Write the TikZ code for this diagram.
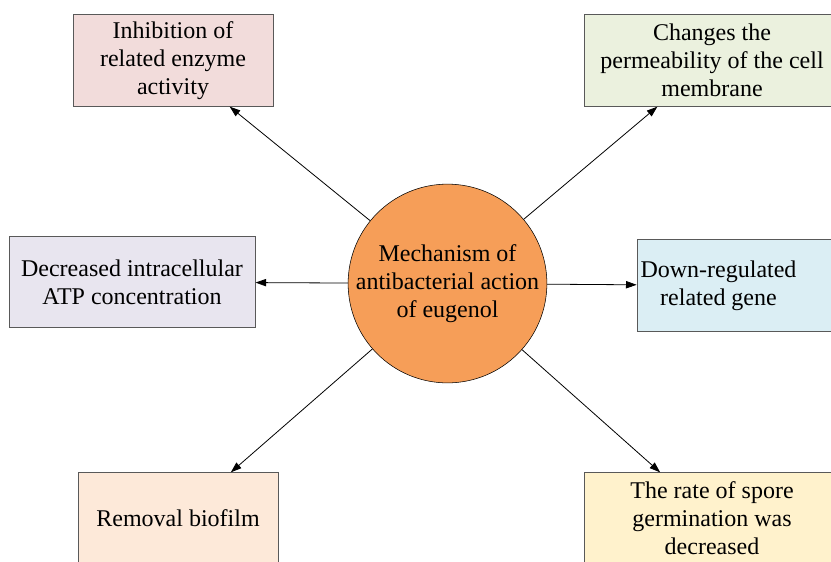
\documentclass[tikz,border=0pt]{standalone}
\usepackage{fontspec}
\setmainfont{Liberation Serif}
\usetikzlibrary{arrows.meta}

\definecolor{circfill}{RGB}{246,158,88}
\definecolor{pinkfill}{RGB}{242,220,219}
\definecolor{greenfill}{RGB}{235,241,222}
\definecolor{lilacfill}{RGB}{232,229,239}
\definecolor{bluefill}{RGB}{219,238,244}
\definecolor{peachfill}{RGB}{253,233,217}
\definecolor{yellowfill}{RGB}{255,242,204}

\begin{document}
\begin{tikzpicture}[x = 0.75pt, y = -0.75pt, align = center,
                    font = \fontsize{18}{21}\selectfont,
                    >={Triangle[length = 8pt, width = 5.5pt]},
                    box/.style = {draw = black!65, line width = 0.75pt, minimum height = 68.5pt, inner sep = 2pt},
                    arrow/.style = {->, line width = 0.6pt}]
                    \useasboundingbox (0, 0) rectangle (831, 561);

                    \node[draw, fill = circfill, circle, minimum size = 147pt, inner sep = 0pt] (0) at (447.5, 283.5) {Mechanism of\\antibacterial action\\of eugenol};

                    \node[box, fill = pinkfill,   minimum width = 150pt]   (1) at (173, 60.5)    {Inhibition of\\related enzyme\\activity};
                    \node[box, fill = greenfill,  minimum width = 192pt]   (2) at (712, 60.5)    {Changes the\\permeability of the cell\\membrane};
                    \node[box, fill = lilacfill,  minimum width = 184.5pt] (3) at (132, 282)     {Decreased intracellular\\ATP concentration};
                    \node[box, fill = bluefill,   minimum width = 152pt,
                          label = {[xshift = -15pt, align = center]center:{Down-regulated\\related gene}}]
                                                                           (4) at (738.5, 285.5) {};
                    \node[box, fill = peachfill,  minimum width = 150pt]   (5) at (178, 518.5)   {Removal biofilm};
                    \node[box, fill = yellowfill, minimum width = 192pt]   (6) at (712, 518.5)   {The rate of spore\\germination was\\decreased};

                    \draw[arrow] (0) -- (1);
                    \draw[arrow] (0) -- (2);
                    \draw[arrow] (0) -- (3);
                    \draw[arrow] (0) -- (4);
                    \draw[arrow] (0) -- (5);
                    \draw[arrow] (0) -- (6);
                \end{tikzpicture}
\end{document}
